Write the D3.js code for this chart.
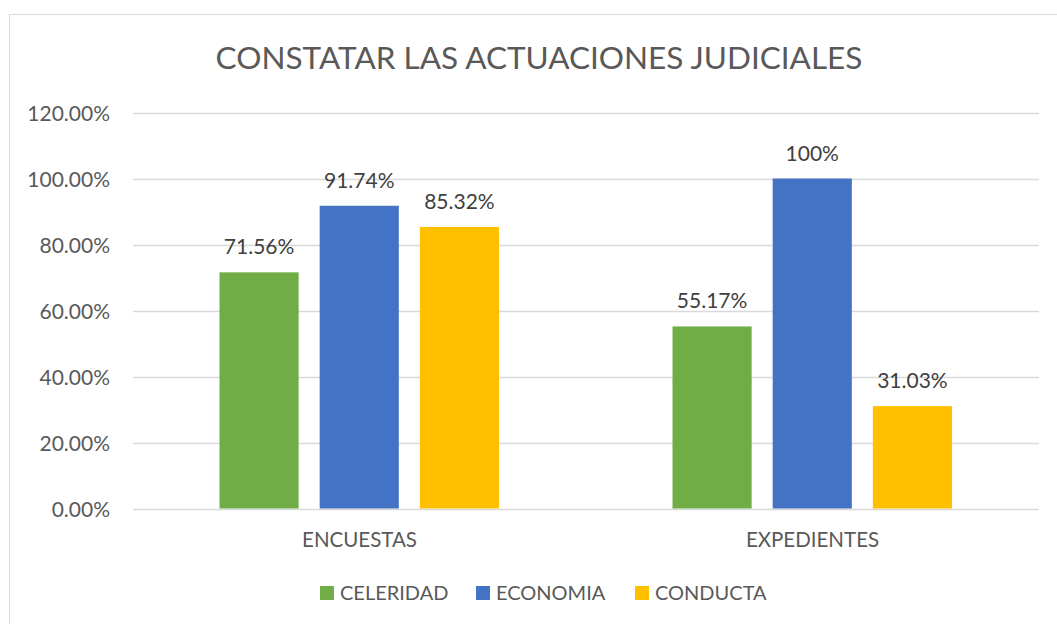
<!DOCTYPE html>
<html>
<head>
<meta charset="utf-8">
<script src="https://cdn.jsdelivr.net/npm/d3@7"></script>
<style>
  html, body { margin: 0; padding: 0; background: #fff; }
  svg { display: block; font-family: Lato, "Open Sans", sans-serif; }
</style>
</head>
<body>
<div id="chart"></div>
<script>
const categories = ["ENCUESTAS", "EXPEDIENTES"];
const seriesNames = ["CELERIDAD", "ECONOMIA", "CONDUCTA"];
const celeridad = [71.56, 55.17];
const economia = [91.74, 100];
const conducta = [85.32, 31.03];
const labelText = [["71.56%", "91.74%", "85.32%"], ["55.17%", "100%", "31.03%"]];
const yTicks = [0, 20, 40, 60, 80, 100, 120];

const values = [celeridad, economia, conducta];
const colors = { CELERIDAD: "#70ad47", ECONOMIA: "#4472c4", CONDUCTA: "#ffc000" };

const W = 1057, H = 624;
const plot = { left: 133, right: 1039, top: 112.5, bottom: 508.5 };

const svg = d3.select("#chart").append("svg")
  .attr("width", W)
  .attr("height", H);

// chart border (runs past the right and bottom edges)
svg.append("rect")
  .attr("x", 9.5).attr("y", 14.5)
  .attr("width", W).attr("height", H)
  .attr("fill", "#fff")
  .attr("stroke", "#d9d9d9");

const x0 = d3.scaleBand().domain(categories).range([plot.left, plot.right]);
const x1 = d3.scaleBand().domain(seriesNames)
  .range([86.5, x0.bandwidth() - 87]).paddingInner(0.21);
const y = d3.scaleLinear().domain([0, 120]).range([plot.bottom, plot.top]);

// gridlines
svg.append("g")
  .selectAll("line")
  .data(yTicks)
  .enter()
  .append("line")
  .attr("x1", plot.left).attr("x2", plot.right)
  .attr("y1", d => Math.round(y(d)) + 0.5)
  .attr("y2", d => Math.round(y(d)) + 0.5)
  .attr("stroke", "#d9d9d9")
  .attr("stroke-width", 1.3);

// y axis
const yAxis = svg.append("g")
  .attr("transform", `translate(${plot.left - 23},0)`)
  .call(d3.axisLeft(y).tickValues(yTicks).tickSize(0).tickPadding(0)
    .tickFormat(d => d.toFixed(2) + "%"));
yAxis.select(".domain").remove();
yAxis.selectAll("text")
  .attr("dy", "0.36em")
  .style("font-size", "21px")
  .style("font-family", "Lato, sans-serif")
  .style("fill", "#595959");

// bars
const groups = svg.selectAll(".cat")
  .data(categories)
  .enter()
  .append("g")
  .attr("transform", d => `translate(${x0(d)},0)`);

const cells = (d, i) => seriesNames.map((s, j) => ({ s, v: values[j][i], label: labelText[i][j] }));

groups.selectAll("rect")
  .data(cells)
  .enter()
  .append("rect")
  .attr("x", d => x1(d.s))
  .attr("width", x1.bandwidth())
  .attr("y", d => y(d.v))
  .attr("height", d => y(0) - y(d.v))
  .attr("fill", d => colors[d.s]);

groups.selectAll("text")
  .data(cells)
  .enter()
  .append("text")
  .attr("x", d => x1(d.s) + x1.bandwidth() / 2)
  .attr("y", d => y(d.v) - 18)
  .attr("text-anchor", "middle")
  .style("font-size", "21px")
  .style("fill", "#404040")
  .text(d => d.label);

// x axis labels
const xAxis = svg.append("g")
  .attr("transform", `translate(0,${plot.bottom})`)
  .call(d3.axisBottom(x0).tickSize(0).tickPadding(0));
xAxis.select(".domain").remove();
xAxis.selectAll("text")
  .attr("y", 38.5)
  .attr("dy", 0)
  .style("font-size", "20.5px")
  .style("font-family", "Lato, sans-serif")
  .style("fill", "#595959");

// Title
svg.append("text")
  .attr("x", 539)
  .attr("y", 69)
  .attr("text-anchor", "middle")
  .style("font-size", "31.5px")
  .style("fill", "#595959")
  .text("CONSTATAR LAS ACTUACIONES JUDICIALES");

// Legend
const legendX = [320, 476, 635];
const legend = svg.selectAll(".legend")
  .data(seriesNames)
  .enter()
  .append("g")
  .attr("transform", (d, i) => `translate(${legendX[i]},586)`);

legend.append("rect")
  .attr("width", 14)
  .attr("height", 14)
  .attr("fill", d => colors[d]);

legend.append("text")
  .attr("x", 20)
  .attr("y", 14)
  .style("font-size", "20px")
  .style("fill", "#595959")
  .text(d => d);
</script>
</body>
</html>
